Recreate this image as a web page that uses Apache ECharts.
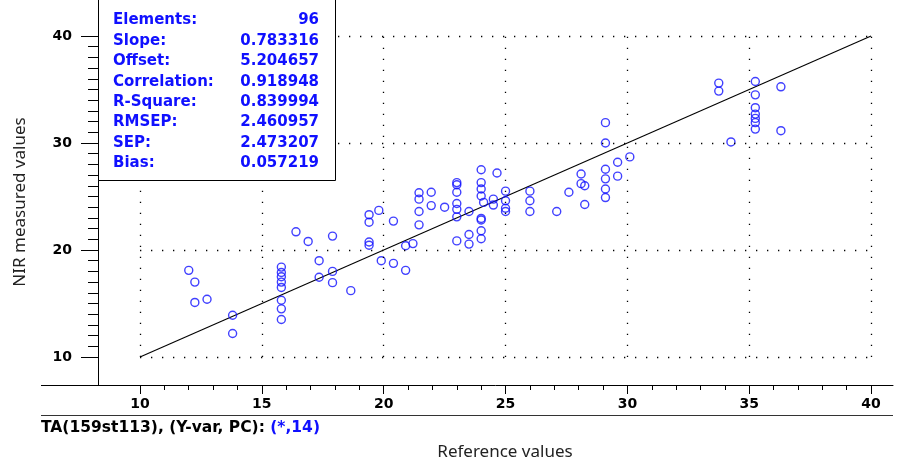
<!DOCTYPE html>
<html>
<head>
<meta charset="utf-8">
<script src="https://cdn.jsdelivr.net/npm/echarts@6/dist/echarts.min.js"></script>
<style>html,body{margin:0;padding:0;background:#fff}#chart{width:903px;height:463px}</style>
</head>
<body>
<div id="chart"></div>
<script>
// ---- data ----
var refValues = [12.0,12.25,12.25,12.75,13.8,13.8,15.8,15.8,15.8,15.8,15.8,15.8,15.8,15.8,16.4,16.9,17.9,17.35,17.35,17.9,17.9,18.65,19.4,19.4,19.8,19.4,19.4,19.9,20.4,20.4,20.9,20.9,21.2,21.45,21.45,21.45,21.45,21.95,21.95,22.5,23.0,23.0,23.0,23.0,23.0,23.0,23.0,23.5,23.5,23.5,24.0,24.0,24.0,24.0,24.1,24.0,24.0,24.0,24.0,24.65,24.5,24.5,25.0,25.0,25.0,25.0,26.0,26.0,26.0,27.1,27.6,28.1,28.1,28.25,28.25,29.1,29.1,29.1,29.1,29.1,29.1,29.6,29.6,30.1,33.75,33.75,34.25,35.25,35.25,35.25,35.25,35.25,35.25,35.25,36.3,36.3];
var nirValues = [18.1,17.0,15.1,15.4,13.9,12.2,18.4,17.9,17.5,17.0,16.5,15.3,14.5,13.5,21.7,20.8,21.3,19.0,17.45,18.0,16.95,16.2,23.3,22.6,23.7,20.75,20.45,19.0,22.7,18.75,18.1,20.4,20.6,25.35,24.75,23.6,22.35,25.4,24.15,24.0,26.3,26.1,25.4,24.35,23.8,23.1,20.85,23.6,21.45,20.55,27.5,26.3,25.7,25.05,24.45,22.95,22.8,21.8,21.05,27.2,24.75,24.2,25.5,24.6,23.9,23.6,25.5,24.6,23.6,23.6,25.4,27.1,26.2,26.0,24.25,31.9,30.0,27.55,26.65,25.7,24.9,28.2,26.9,28.7,35.6,34.85,30.1,35.75,34.5,33.3,32.7,32.3,31.9,31.3,35.25,31.15];
var targetLineX = [10, 40];
var targetLineY = [10, 40];
var xMajorTicks = [10, 15, 20, 25, 30, 35, 40];
var xMinorTicks = [11,12,13,14,16,17,18,19,21,22,23,24,26,27,28,29,31,32,33,34,36,37,38,39];
var yMajorTicks = [10, 20, 30, 40];
var yMinorTicks = [11,12,13,14,15,16,17,18,19,21,22,23,24,25,26,27,28,29,31,32,33,34,35,36,37,38,39];
var xGridValues = [10, 15, 20, 25, 30, 35, 40];
var yGridValues = [10, 20, 30, 40];
var statLabels = ['Elements:', 'Slope:', 'Offset:', 'Correlation:', 'R-Square:', 'RMSEP:', 'SEP:', 'Bias:'];
var statValues = ['96', '0.783316', '5.204657', '0.918948', '0.839994', '2.460957', '2.473207', '0.057219'];
var footerText = 'TA(159st113), (Y-var, PC): ';
var footerPC = '(*,14)';
var xTitle = 'Reference values';
var yTitle = 'NIR measured values';

// ---- chart ----
var XMIN = 8.276, XMAX = 40.9, YMIN = 7.383, YMAX = 43.364;
var BLUE = '#1010ff';
var boldFont = 'DejaVu Sans';

var points = refValues.map(function (v, i) { return [v, nirValues[i]]; });
var linePts = targetLineX.map(function (v, i) { return [v, targetLineY[i]]; });

var gridLines = [];
xGridValues.forEach(function (x) {
  gridLines.push([{ coord: [x, yGridValues[0]] }, { coord: [x, yGridValues[yGridValues.length - 1]] }]);
});
yGridValues.forEach(function (y) {
  gridLines.push([{ coord: [xGridValues[0], y] }, { coord: [xGridValues[xGridValues.length - 1], y] }]);
});

var statElems = [];
statElems.push({
  type: 'rect', z: 100,
  shape: { x: 98.5, y: -2, width: 237, height: 182.5 },
  style: { fill: '#fff', stroke: '#000', lineWidth: 1 }
});
statLabels.forEach(function (lab, i) {
  var cy = 20.5 + i * 20.4;
  statElems.push({ type: 'text', z: 101, x: 113, y: cy,
    style: { text: lab, fill: BLUE, font: 'bold 15px "' + boldFont + '"', textAlign: 'left', textVerticalAlign: 'middle' } });
  statElems.push({ type: 'text', z: 101, x: 319, y: cy,
    style: { text: statValues[i], fill: BLUE, font: 'bold 15px "' + boldFont + '"', textAlign: 'right', textVerticalAlign: 'middle' } });
});

var chart = echarts.init(document.getElementById('chart'), null, { renderer: 'canvas' });
chart.setOption({
  animation: false,
  backgroundColor: '#fff',
  grid: { left: 98, right: 10, top: 0, bottom: 78, containLabel: false },
  xAxis: [
    { type: 'value', min: XMIN, max: XMAX, position: 'bottom', offset: 0,
      axisLine: { show: true, onZero: false, lineStyle: { color: '#000', width: 1 } },
      axisTick: { show: true, length: 9, customValues: xMajorTicks, lineStyle: { color: '#000' } },
      axisLabel: { show: true, customValues: xMajorTicks, margin: 12, color: '#000', fontFamily: boldFont, fontWeight: 'bold', fontSize: 14 },
      splitLine: { show: false } },
    { type: 'value', min: XMIN, max: XMAX, position: 'bottom', offset: 0,
      axisLine: { show: false, onZero: false },
      axisTick: { show: true, length: 5, customValues: xMinorTicks, lineStyle: { color: '#000' } },
      axisLabel: { show: false },
      splitLine: { show: false } }
  ],
  yAxis: [
    { type: 'value', min: YMIN, max: YMAX, position: 'left', offset: 0,
      axisLine: { show: true, onZero: false, lineStyle: { color: '#000', width: 1 } },
      axisTick: { show: true, length: 17, customValues: yMajorTicks, lineStyle: { color: '#000' } },
      axisLabel: { show: true, customValues: yMajorTicks, margin: 26, color: '#000', fontFamily: boldFont, fontWeight: 'bold', fontSize: 14 },
      splitLine: { show: false } },
    { type: 'value', min: YMIN, max: YMAX, position: 'left', offset: 0,
      axisLine: { show: false, onZero: false },
      axisTick: { show: true, length: 10, customValues: yMinorTicks, lineStyle: { color: '#000' } },
      axisLabel: { show: false },
      splitLine: { show: false } }
  ],
  series: [
    { type: 'line', xAxisIndex: 0, yAxisIndex: 0, data: linePts, symbol: 'none', silent: true,
      lineStyle: { color: '#000', width: 1.1 }, z: 3,
      markLine: { silent: true, symbol: ['none', 'none'], label: { show: false },
        lineStyle: { color: '#000', width: 1.3, type: [1.3, 9.7] }, data: gridLines, animation: false } },
    { type: 'scatter', xAxisIndex: 0, yAxisIndex: 0, data: points, symbol: 'circle', symbolSize: 8, z: 4,
      itemStyle: { color: 'rgba(0,0,0,0)', borderColor: BLUE, borderWidth: 1.4 } }
  ],
  graphic: [
    { type: 'line', z: 50, shape: { x1: 41, y1: 385.5, x2: 98, y2: 385.5 }, style: { stroke: '#000', lineWidth: 1 } },
    { type: 'line', z: 50, shape: { x1: 41, y1: 415.5, x2: 893, y2: 415.5 }, style: { stroke: '#333', lineWidth: 1 } },
    { type: 'text', z: 50, x: 41, y: 428,
      style: { text: '{a|' + footerText + '}{b|' + footerPC + '}', textVerticalAlign: 'middle',
        rich: { a: { fill: '#000', font: 'bold 15.5px "' + boldFont + '"' }, b: { fill: BLUE, font: 'bold 15.5px "' + boldFont + '"' } } } },
    { type: 'text', z: 50, x: 505, y: 452,
      style: { text: xTitle, fill: '#222', font: '17px "Noto Sans"', textAlign: 'center', textVerticalAlign: 'middle' } },
    { type: 'text', z: 50, x: 20, y: 202, rotation: Math.PI / 2,
      style: { text: yTitle, fill: '#222', font: '17px "Noto Sans"', textAlign: 'center', textVerticalAlign: 'middle' } },
    { type: 'group', children: statElems }
  ]
});
</script>
</body>
</html>
